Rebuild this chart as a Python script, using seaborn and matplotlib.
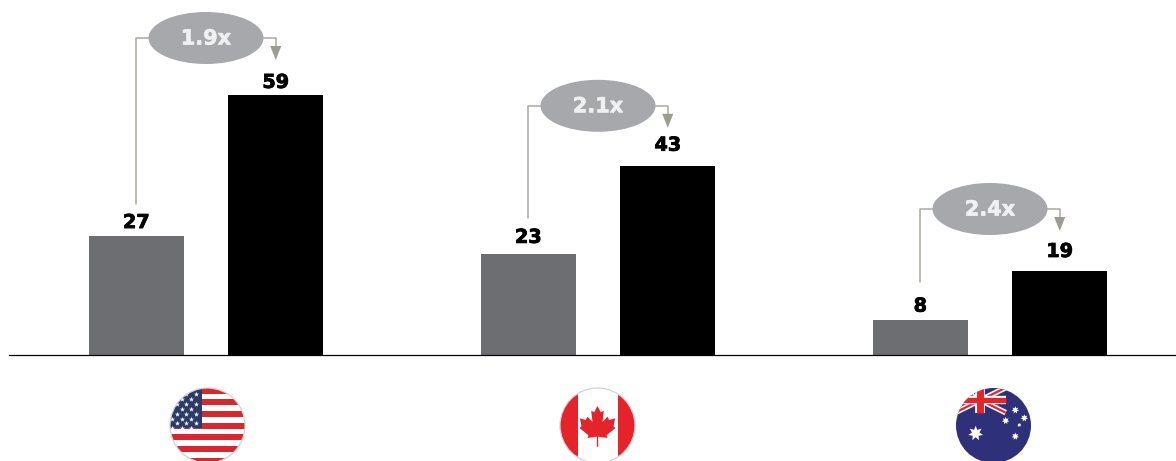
import numpy as np
import pandas as pd
import seaborn as sns
import matplotlib
matplotlib.use("Agg")
import matplotlib.pyplot as plt
import matplotlib.patheffects as pe
from matplotlib.patches import Circle, Ellipse, Polygon, Rectangle

countries = ["United States", "Canada", "Australia"]
earlier = [27, 23, 8]
later = [59, 43, 19]
multiples = ["1.9x", "2.1x", "2.4x"]

# layout offsets (pixels)
left_offsets = [32, 36, 38]
bubble_rise = [57.4, 60, 62.4]
earlier_label_pad = [1.0, 3.0, 1.0]
later_label_pad = [0.5, 6.0, 5.5]

GREY = "#6D6E71"
BUBBLE = "#A7A8AC"
CONNECT = "#A9AA9F"

sns.set_theme(style="white")
plt.rcParams["font.family"] = ["DejaVu Sans"]

W, H, BASE = 1176, 461, 355
fig = plt.figure(figsize=(W / 100, H / 100), dpi=100)
ax = fig.add_axes([9 / W, (H - BASE) / H, (W - 9) / W, BASE / H])

df = pd.DataFrame({
    "country": countries * 2,
    "period": ["earlier"] * 3 + ["later"] * 3,
    "value": earlier + later,
})
sns.barplot(data=df, x="country", y="value", hue="period", order=countries,
            hue_order=["earlier", "later"], palette=[GREY, "black"],
            width=0.7117, gap=0.319, saturation=1, linewidth=0,
            legend=False, ax=ax)

PX_X = 392.0
PX_Y = 4.4
ax.set_xlim((9 - 206) / PX_X, (W - 206) / PX_X)
ax.set_ylim(0, BASE / PX_Y)
ax.set_xlabel("")
ax.set_ylabel("")
ax.set_xticks([])
ax.set_yticks([])
ax.grid(False)
for s in ("top", "left", "right"):
    ax.spines[s].set_visible(False)
ax.spines["bottom"].set_color("black")
ax.spines["bottom"].set_linewidth(0.9)

for c, pads in zip(ax.containers, [earlier_label_pad, later_label_pad]):
    for bar, pad in zip(c, pads):
        ax.annotate(f"{bar.get_height():.0f}",
                    (bar.get_x() + bar.get_width() / 2, bar.get_height()),
                    xytext=(0, 2 + pad), textcoords="offset points",
                    ha="center", va="bottom", fontsize=13.8, fontweight="bold",
                    color="black",
                    path_effects=[pe.withStroke(linewidth=0.6, foreground="black")])

half = 139.5 / 2 / PX_X
for i, (a, b, m, off, rise) in enumerate(zip(earlier, later, multiples, left_offsets, bubble_rise)):
    cy = b + rise / PX_Y
    xl, xr = i - half, i + half
    ax.plot([xl, xl, i], [a + off / PX_Y, cy, cy], color=CONNECT, lw=1.1, clip_on=False, zorder=3)
    ax.plot([i, xr, xr], [cy, cy, cy - 8 / PX_Y], color=CONNECT, lw=1.1, clip_on=False, zorder=3)
    ax.fill([xr - 5.5 / PX_X, xr + 5.5 / PX_X, xr],
            [cy - 8 / PX_Y, cy - 8 / PX_Y, cy - 22 / PX_Y],
            color="#9C9D90", lw=0, zorder=3)
    ax.add_patch(Ellipse((i, cy), 115 / PX_X, 52 / PX_Y, fc=BUBBLE, ec="none",
                         clip_on=False, zorder=4))
    ax.text(i, cy + 1.5 / PX_Y, m, ha="center", va="center_baseline", fontsize=15, fontweight="bold",
            color="#F0F0F2", zorder=5,
            path_effects=[pe.withStroke(linewidth=0.5, foreground="#F0F0F2")])

# flags, drawn in a pixel-scaled overlay
ov = fig.add_axes([0, 0, 1, 1], facecolor="none")
ov.set_xlim(0, W)
ov.set_ylim(H, 0)
ov.axis("off")
R = 37.5
CY = 425.5


def clipped(circle, *artists):
    for art in artists:
        art.set_clip_path(circle)


def disc(cx, color):
    c = Circle((cx, CY), R, fc=color, ec="none", zorder=1)
    ov.add_patch(c)
    return c


def rim(cx, color="#D4D4D4"):
    ov.add_patch(Circle((cx, CY), R, fc="none", ec=color, lw=0.9, zorder=9))


# United States
cx = 207.5
clip = disc(cx, "white")
red = "#D7282F"
for k in range(7):
    y0 = 387.7 + k * 11.67
    clipped(clip, ov.add_patch(Rectangle((cx - R, y0), 2 * R, 5.9, fc=red, ec="none", zorder=2)))
clipped(clip, ov.add_patch(Rectangle((cx - R, 385), 31.7, 43.3, fc="#2B3A67", ec="none", zorder=3)))
sx, sy = [], []
for r in range(8):
    for k in range(5):
        sx.append(cx - 11.8 - k * 9.4 - (r % 2) * 4.7)
        sy.append(394 + r * 4.9)
stars = ov.scatter(sx, sy, marker="*", s=15, c="white", linewidths=0, zorder=4)
stars.set_clip_path(clip)
rim(cx)

# Canada
cx = 597.5
clip = disc(cx, "white")
red = "#E5232A"
clipped(clip, ov.add_patch(Rectangle((cx - R, 385), 17.5, 80, fc=red, ec="none", zorder=2)),
        ov.add_patch(Rectangle((cx + 20, 385), 18, 80, fc=red, ec="none", zorder=2)))
half_leaf = [(0, 93), (10, 112), (19, 107), (15, 141), (30, 125), (35, 135), (53, 130),
             (48, 154), (54, 159), (27, 181), (30, 189), (2, 185), (2, 215)]
pts = [(cx + x / 3, 375 + y / 3) for x, y in half_leaf] + \
      [(cx - x / 3, 375 + y / 3) for x, y in reversed(half_leaf)]
ov.add_patch(Polygon(pts, closed=True, fc=red, ec="none", zorder=3))
rim(cx)

# Australia
cx = 993.5
navy = "#2E3179"
clip = disc(cx, navy)
x0, x1 = 935 + 60 / 3, 935 + 212 / 3
y0, y1 = 375 + 38 / 3, 375 + 113 / 3
xm, ym = 935 + 134 / 3, 375 + 75 / 3
for (xs, ys, col, lw, z) in [
    ([x0, x1], [y0, y1], "white", 4.0, 2),
    ([x0, x1], [y1, y0], "white", 4.0, 2),
    ([x0, x1], [y0, y1], "#E5232A", 1.6, 3),
    ([x0, x1], [y1, y0], "#E5232A", 1.6, 3),
    ([x0, x1], [ym, ym], "white", 6.0, 4),
    ([xm, xm], [y0, y1], "white", 7.0, 4),
    ([x0, x1], [ym, ym], "#E5232A", 3.8, 5),
    ([xm, xm], [y0, y1], "#E5232A", 5.0, 5),
]:
    ln, = ov.plot(xs, ys, color=col, lw=lw, solid_capstyle="butt", zorder=z)
    clipped(clip, ln)
au_x = [122, 241, 268, 253, 241, 212]
au_y = [175, 105, 129, 150, 184, 137]
au_s = [120, 30, 30, 10, 30, 30]
ov.scatter([935 + x / 3 for x in au_x], [375 + y / 3 for y in au_y], s=au_s,
           marker=(7, 1, 0), c="white", linewidths=0, zorder=6)

fig.savefig("out.png", dpi=100, facecolor="white")
